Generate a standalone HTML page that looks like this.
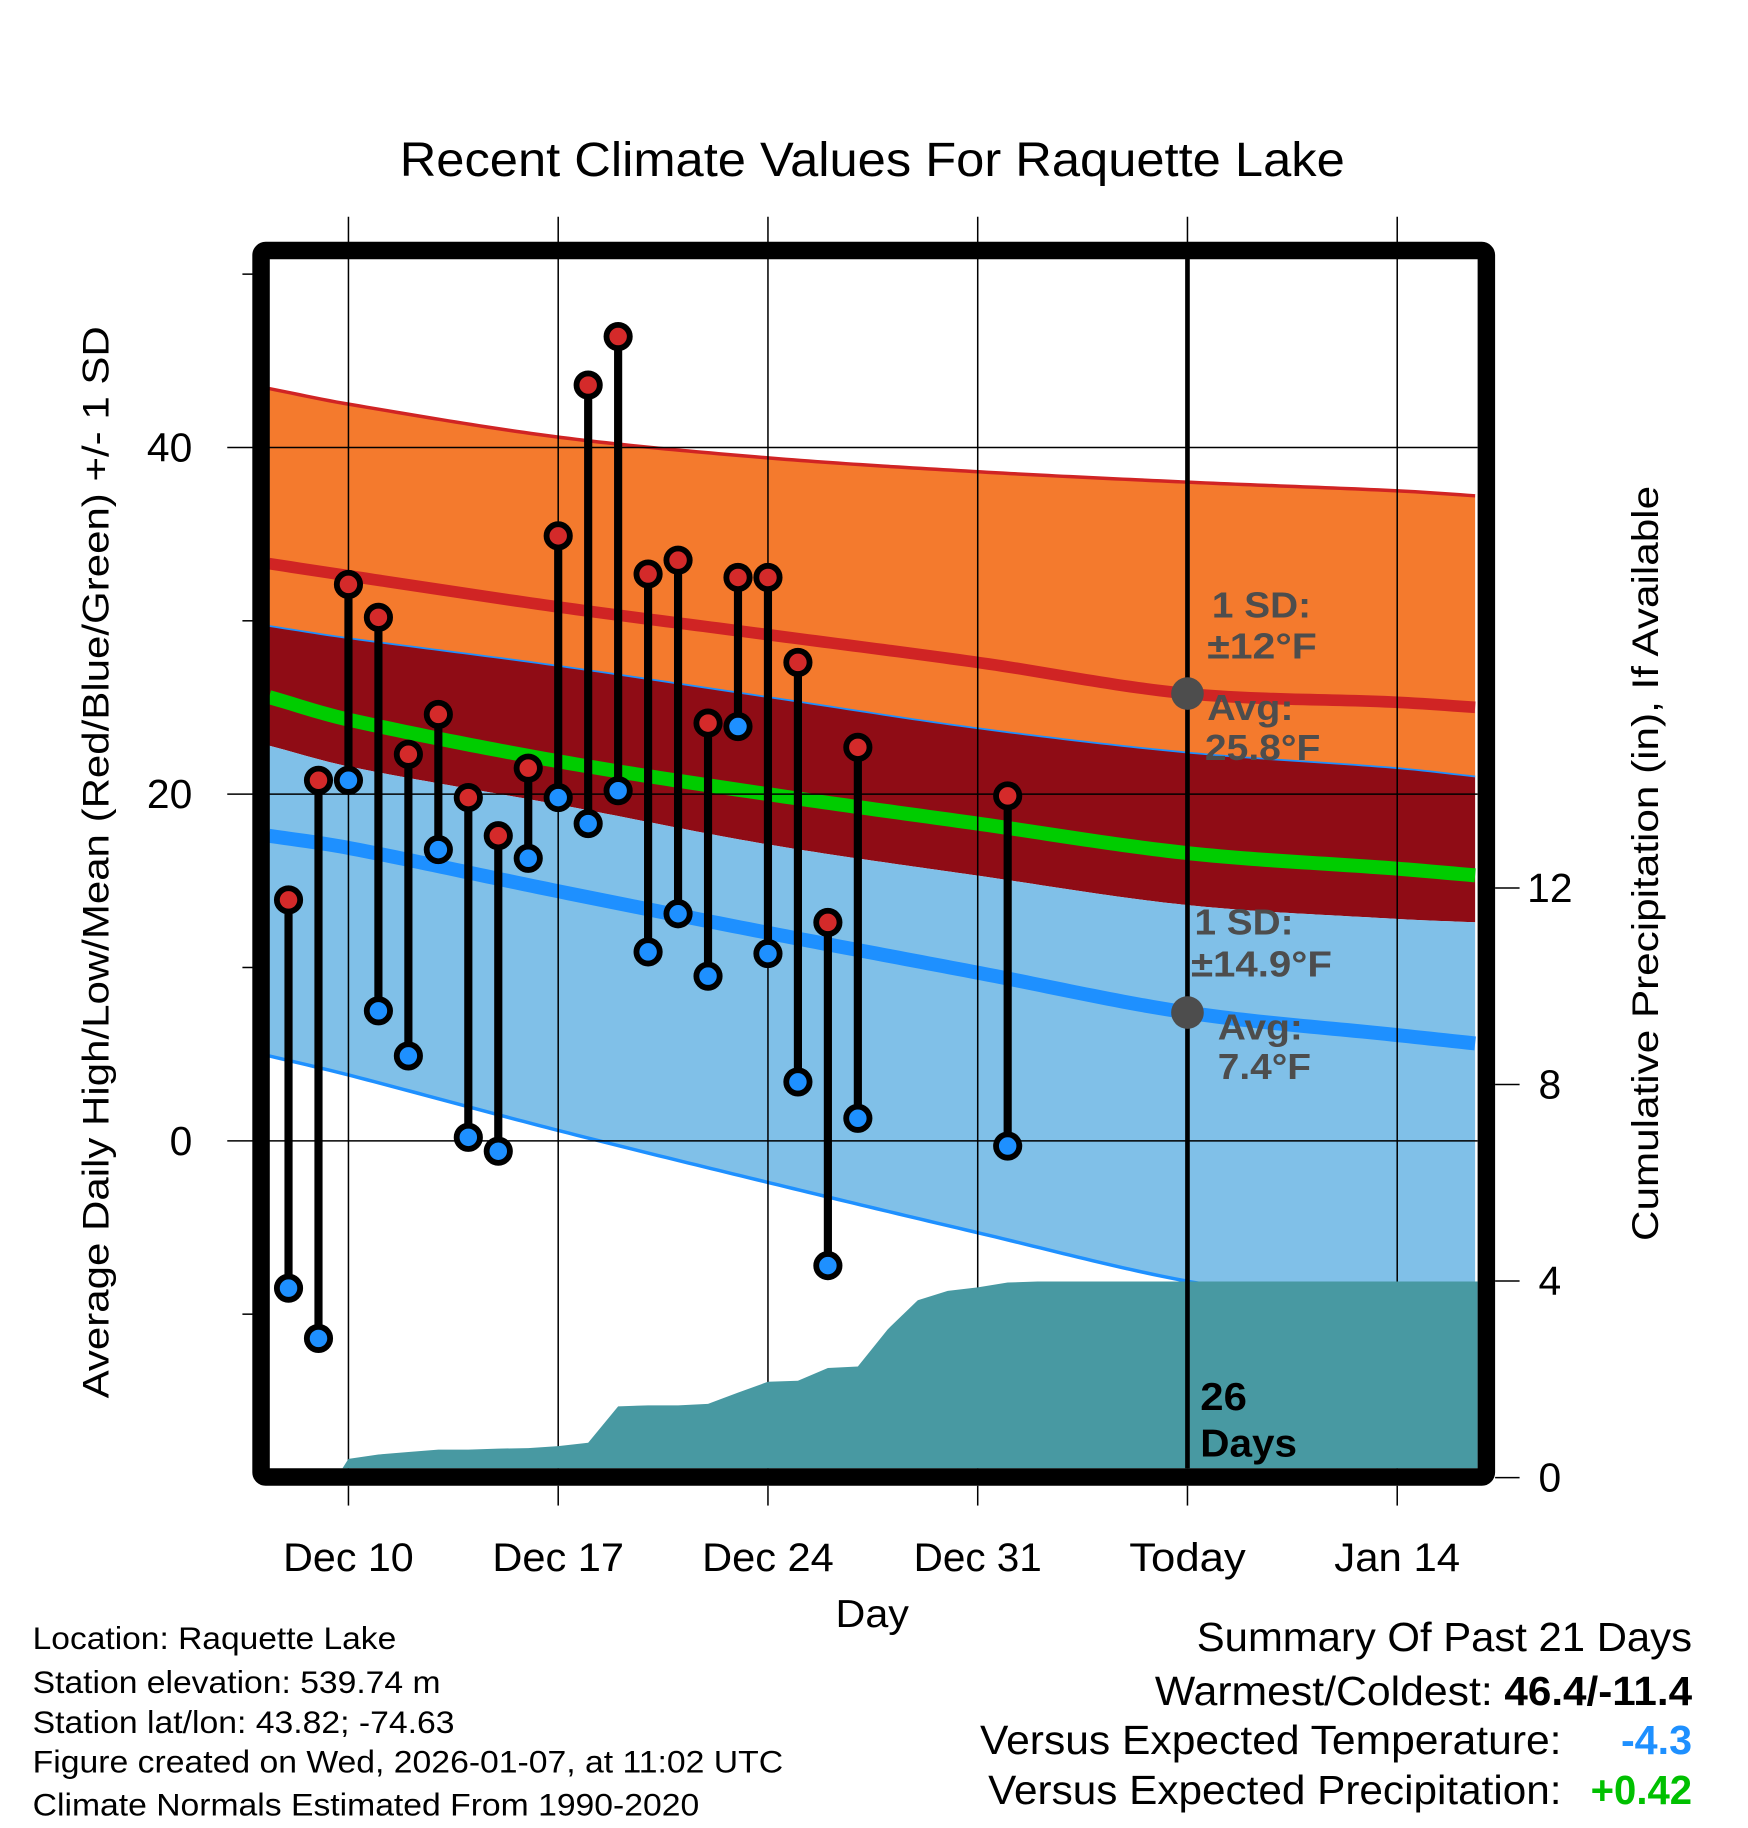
<!DOCTYPE html>
<html><head><meta charset="utf-8"><style>
html,body{margin:0;padding:0;background:#fff}
svg{display:block;font-family:"Liberation Sans",sans-serif}
</style></head><body>
<svg id="chart" width="1748" height="1828" viewBox="0 0 1500 1568.7" xmlns="http://www.w3.org/2000/svg">
<text x="343" y="151" font-size="41" textLength="811" lengthAdjust="spacingAndGlyphs">Recent Climate Values For Raquette Lake</text>
<g id="bands"></g>
<g id="grid"></g>
<g id="precip"></g>
<g id="marks"></g>
<g id="axes"></g>
<text transform="translate(93,1200) rotate(-90)" font-size="32" textLength="920" lengthAdjust="spacingAndGlyphs">Average Daily High/Low/Mean (Red/Blue/Green) +/- 1 SD</text>
<text transform="translate(1423,1065) rotate(-90)" font-size="32" textLength="648" lengthAdjust="spacingAndGlyphs">Cumulative Precipitation (in), If Available</text>
<text x="717" y="1396" font-size="33" textLength="63" lengthAdjust="spacingAndGlyphs">Day</text>
<g font-weight="bold" font-size="31" fill="#4d4d4d">
<text x="1040" y="530" textLength="85" lengthAdjust="spacingAndGlyphs">1 SD:</text><text x="1036" y="565" textLength="94" lengthAdjust="spacingAndGlyphs">±12°F</text>
<text x="1036" y="618" textLength="74" lengthAdjust="spacingAndGlyphs">Avg:</text><text x="1034" y="652" textLength="99" lengthAdjust="spacingAndGlyphs">25.8°F</text></g>
<g font-weight="bold" font-size="31" fill="#4d4d4d">
<text x="1025" y="802" textLength="85" lengthAdjust="spacingAndGlyphs">1 SD:</text><text x="1022" y="838" textLength="121" lengthAdjust="spacingAndGlyphs">±14.9°F</text>
<text x="1045" y="892" textLength="73" lengthAdjust="spacingAndGlyphs">Avg:</text><text x="1045" y="926" textLength="80" lengthAdjust="spacingAndGlyphs">7.4°F</text></g>
<g font-weight="bold" font-size="33" fill="#000">
<text x="1030" y="1210" textLength="40" lengthAdjust="spacingAndGlyphs">26</text><text x="1030" y="1250" textLength="83" lengthAdjust="spacingAndGlyphs">Days</text></g>
<g font-size="27" fill="#000">
<text x="28" y="1415" textLength="312" lengthAdjust="spacingAndGlyphs">Location: Raquette Lake</text>
<text x="28" y="1453" textLength="350" lengthAdjust="spacingAndGlyphs">Station elevation: 539.74 m</text>
<text x="28" y="1487" textLength="362" lengthAdjust="spacingAndGlyphs">Station lat/lon: 43.82; -74.63</text>
<text x="28" y="1521" textLength="644" lengthAdjust="spacingAndGlyphs">Figure created on Wed, 2026-01-07, at 11:02 UTC</text>
<text x="28" y="1558" textLength="572" lengthAdjust="spacingAndGlyphs">Climate Normals Estimated From 1990-2020</text></g>
<g font-size="35">
<text x="1027" y="1417" textLength="425" lengthAdjust="spacingAndGlyphs">Summary Of Past 21 Days</text>
<text x="991" y="1463" textLength="290" lengthAdjust="spacingAndGlyphs">Warmest/Coldest:</text>
<text x="1291" y="1463" font-weight="bold" textLength="161" lengthAdjust="spacingAndGlyphs">46.4/-11.4</text>
<text x="841" y="1505" textLength="499" lengthAdjust="spacingAndGlyphs">Versus Expected Temperature:</text>
<text x="1391" y="1505" font-weight="bold" fill="#1e90ff" textLength="61" lengthAdjust="spacingAndGlyphs">-4.3</text>
<text x="848" y="1548" textLength="492" lengthAdjust="spacingAndGlyphs">Versus Expected Precipitation:</text>
<text x="1365" y="1548" font-weight="bold" fill="#00c000" textLength="87" lengthAdjust="spacingAndGlyphs">+0.42</text></g>
</svg>
<script>
// days relative to Dec 10 (0)
const normDays = [-2.65, 0, 7, 14, 21, 28, 35, 37.7];
const highPlusSD = [43.4, 42.5, 40.6, 39.4, 38.6, 38.0, 37.5, 37.2];
const highMean = [33.3, 32.6, 30.8, 29.2, 27.6, 25.8, 25.3, 25.0];
const highMinusSD = [29.7, 29.0, 27.4, 25.6, 23.8, 22.4, 21.5, 21.0];
const meanTemp = [25.6, 24.3, 21.9, 20.0, 18.3, 16.6, 15.7, 15.3];
const lowPlusSD = [22.8, 21.6, 19.4, 17.1, 15.3, 13.6, 12.8, 12.6];
const lowMean = [17.6, 16.9, 14.4, 12.0, 9.7, 7.4, 6.1, 5.6];
const lowMinusSD = [4.9, 3.8, 0.6, -2.4, -5.3, -8.1, -9.8, -10.3];
const obsDays = [-2,-1,0,1,2,3,4,5,6,7,8,9,10,11,12,13,14,15,16,17,22];
const obsHigh = [13.9,20.8,32.1,30.2,22.3,24.6,19.8,17.6,21.5,34.9,43.6,46.4,32.7,33.5,24.1,32.5,32.5,27.6,12.6,22.7,19.9];
const obsLow = [-8.5,-11.4,20.8,7.5,4.9,16.8,0.2,-0.6,16.3,19.8,18.3,20.2,10.9,13.1,9.5,23.9,10.8,3.4,-7.2,1.3,-0.3];
const precipDays = [-0.4,0,1,2,3,4,5,6,7,8,9,10,11,12,13,14,15,16,17,18,19,20,21,22,23,37.7];
const precipVals = [0,0.38,0.47,0.52,0.57,0.57,0.59,0.6,0.64,0.71,1.45,1.47,1.47,1.5,1.73,1.95,1.97,2.23,2.26,3.02,3.61,3.8,3.87,3.97,3.99,3.99];
const xTickDays = [0,7,14,21,28,35];
const xTickLabels = ["Dec 10","Dec 17","Dec 24","Dec 31","Today","Jan 14"];
const xTickWidths = [112,113,113,110,100,108];
const yTicks = [0,20,40];
const yMinor = [-10,10,30,50];
const y2Ticks = [0,4,8,12];
const todayDay = 28;

const NS="http://www.w3.org/2000/svg";
const L=231,R=1268,T=222,B=1260;
const x=d=>299+d*180/7;
const y=v=>979-v*(979-384)/40;
const y2=v=>1268-v*(1268-762)/12;
function el(tag,attrs,parent){const e=document.createElementNS(NS,tag);for(const k in attrs)e.setAttribute(k,attrs[k]);parent.appendChild(e);return e;}
function interp(xs,ys,d){for(let i=0;i<xs.length-1;i++){if(d<=xs[i+1]){const t=(d-xs[i])/(xs[i+1]-xs[i]);return ys[i]+t*(ys[i+1]-ys[i]);}}return ys[ys.length-1];}
function smooth(xs,ys,d){
  const n=xs.length;let i=0;while(i<n-2&&d>xs[i+1])i++;
  const h=xs[i+1]-xs[i],t=Math.max(0,Math.min(1,(d-xs[i])/h));
  const slope=k=>{if(k<=0)return (ys[1]-ys[0])/(xs[1]-xs[0]);if(k>=n-1)return (ys[n-1]-ys[n-2])/(xs[n-1]-xs[n-2]);return (ys[k+1]-ys[k-1])/(xs[k+1]-xs[k-1]);};
  const m0=slope(i)*h,m1=slope(i+1)*h,t2=t*t,t3=t2*t;
  return (2*t3-3*t2+1)*ys[i]+(t3-2*t2+t)*m0+(-2*t3+3*t2)*ys[i+1]+(t3-t2)*m1;
}
function samples(arr){const pts=[];for(let d=normDays[0];d<=normDays[normDays.length-1]+0.001;d+=0.25){pts.push([x(d),y(smooth(normDays,arr,d))]);}return pts;}
const svg=document.getElementById('chart');
const defs=el('defs',{},svg);
const cp=el('clipPath',{id:'clip'},defs);
el('rect',{x:L,y:T,width:R-L,height:B-T},cp);
const bands=document.getElementById('bands');bands.setAttribute('clip-path','url(#clip)');
function area(top,bot,fill,name){const a=samples(top),b=samples(bot).reverse();const p=el('path',{d:'M'+a.concat(b).map(q=>q.join(',')).join('L')+'Z',fill:fill},bands);

}
function line(arr,col,w,name){const p=el('path',{d:'M'+samples(arr).map(q=>q.join(',')).join('L'),fill:'none',stroke:col,'stroke-width':w},bands);

}
area(highPlusSD,highMinusSD,'#f47a2d','high-sd-band');
area(highMinusSD,lowPlusSD,'#8f0c15','overlap-band');
area(lowPlusSD,lowMinusSD,'#80c0e8','low-sd-band');
line(highPlusSD,'#d02424',3,'high-plus-sd-line');
line(highMinusSD,'#1e90ff',1.5,'high-minus-sd-line');
line(lowMinusSD,'#1e90ff',3,'low-minus-sd-line');
line(highMean,'#d02424',10,'mean-high-line');
line(meanTemp,'#00cc00',12,'mean-temp-line');
line(lowMean,'#1e90ff',12,'mean-low-line');
// grid
const grid=document.getElementById('grid');
xTickDays.forEach(d=>{const g=el('line',{x1:x(d),x2:x(d),y1:186,y2:B,stroke:'#000','stroke-width':1.3},grid);

});
yTicks.forEach(v=>{const g=el('line',{x1:195,x2:R,y1:y(v),y2:y(v),stroke:'#000','stroke-width':1.3},grid);

});
// precip
const pg=document.getElementById('precip');pg.setAttribute('clip-path','url(#clip)');
let pd='M'+x(precipDays[0])+','+y2(0);
precipDays.forEach((d,i)=>{pd+='L'+x(d)+','+y2(precipVals[i]);});
pd+='L'+x(precipDays[precipDays.length-1])+','+(B+10)+'L'+x(precipDays[0])+','+(B+10)+'Z';
const pa=el('path',{d:pd,fill:'#4899a2'},pg);


// today line
const tl=el('line',{x1:x(todayDay),x2:x(todayDay),y1:T,y2:B,stroke:'#000','stroke-width':4},svg);


[[highMean,'today-avg-high-dot'],[lowMean,'today-avg-low-dot']].forEach(([arr,n])=>{const c=el('circle',{cx:x(todayDay),cy:y(interp(normDays,arr,todayDay)),r:14,fill:'#4d4d4d'},svg);

});
// marks
const marks=document.getElementById('marks');svg.appendChild(marks);
obsDays.forEach((d,i)=>{
 const s=el('line',{x1:x(d),x2:x(d),y1:y(obsHigh[i]),y2:y(obsLow[i]),stroke:'#000','stroke-width':7},marks);
 
 
});
obsDays.forEach((d,i)=>{
 const h=el('circle',{cx:x(d),cy:y(obsHigh[i]),r:10,fill:'#d42a2a',stroke:'#000','stroke-width':5},marks);
 
 
 const l=el('circle',{cx:x(d),cy:y(obsLow[i]),r:10,fill:'#1e90ff',stroke:'#000','stroke-width':5},marks);
 
 
});
// axes & frame
const ax=document.getElementById('axes');svg.appendChild(ax);
const fr=el('rect',{x:224,y:215,width:1051.5,height:1052.5,fill:'none',stroke:'#000','stroke-width':15,rx:4},ax);


xTickDays.forEach((d,i)=>{
 el('line',{x1:x(d),x2:x(d),y1:1275,y2:1292,stroke:'#000','stroke-width':1.3},ax);
 const t=el('text',{x:x(d)-xTickWidths[i]/2,y:1348,'font-size':34,textLength:xTickWidths[i],lengthAdjust:'spacingAndGlyphs'},ax);t.textContent=xTickLabels[i];
 
 
});
yTicks.forEach(v=>{const t=el('text',{x:165,y:y(v)+12,'font-size':35,'text-anchor':'end'},ax);t.textContent=v;
 
 });
yMinor.forEach(v=>{el('line',{x1:208,x2:217,y1:y(v),y2:y(v),stroke:'#000','stroke-width':1.3},ax);});
y2Ticks.forEach(v=>{el('line',{x1:1283,x2:1304,y1:y2(v),y2:y2(v),stroke:'#000','stroke-width':1.3},ax);
 const t=el('text',{x:1330,y:y2(v)+12,'font-size':35,'text-anchor':'middle'},ax);t.textContent=v;
 
 });
</script>
</body></html>
